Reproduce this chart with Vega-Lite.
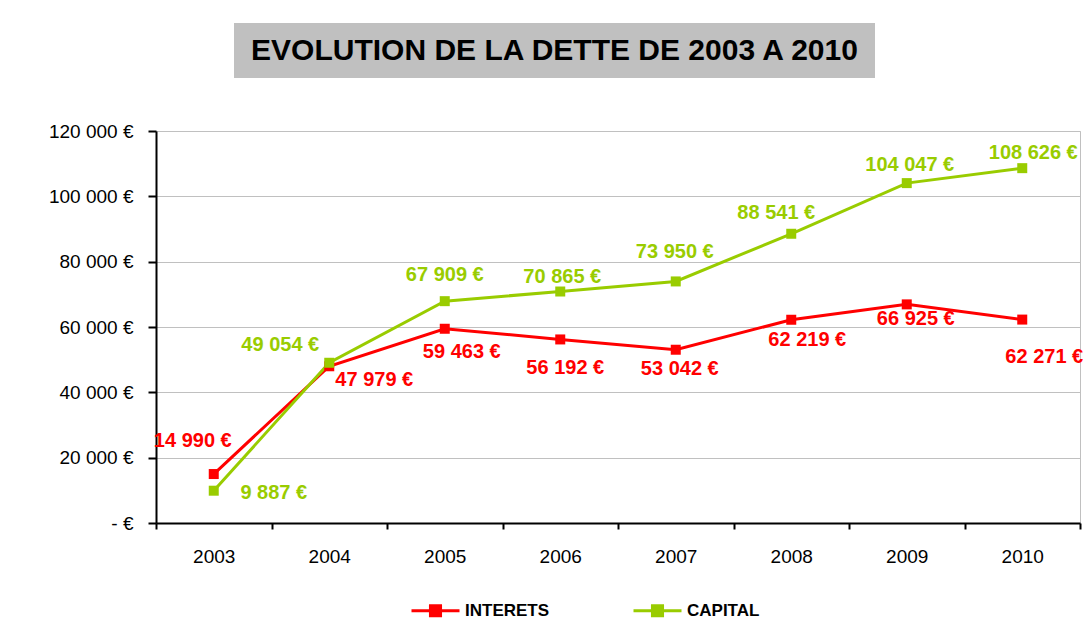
{
  "$schema": "https://vega.github.io/schema/vega-lite/v6.json",
  "background": "white",
  "padding": {"left": 47, "top": 23, "right": 5, "bottom": 5},
  "config": {
    "locale": {"number": {"decimal": ",", "thousands": " ", "grouping": [3], "currency": ["", " €"]}},
    "font": "Liberation Sans",
    "view": {"stroke": "#C0C0C0"}
  },
  "datasets": {
    "dette": [
      {"annee": "2003", "serie": "INTERETS", "montant": 14990},
      {"annee": "2004", "serie": "INTERETS", "montant": 47979},
      {"annee": "2005", "serie": "INTERETS", "montant": 59463},
      {"annee": "2006", "serie": "INTERETS", "montant": 56192},
      {"annee": "2007", "serie": "INTERETS", "montant": 53042},
      {"annee": "2008", "serie": "INTERETS", "montant": 62219},
      {"annee": "2009", "serie": "INTERETS", "montant": 66925},
      {"annee": "2010", "serie": "INTERETS", "montant": 62271},
      {"annee": "2003", "serie": "CAPITAL", "montant": 9887},
      {"annee": "2004", "serie": "CAPITAL", "montant": 49054},
      {"annee": "2005", "serie": "CAPITAL", "montant": 67909},
      {"annee": "2006", "serie": "CAPITAL", "montant": 70865},
      {"annee": "2007", "serie": "CAPITAL", "montant": 73950},
      {"annee": "2008", "serie": "CAPITAL", "montant": 88541},
      {"annee": "2009", "serie": "CAPITAL", "montant": 104047},
      {"annee": "2010", "serie": "CAPITAL", "montant": 108626}
    ]
  },
  "spacing": 43,
  "vconcat": [
    {
      "spacing": 20,
      "hconcat": [
        {
          "width": 58,
          "height": 55,
          "view": {"stroke": null},
          "data": {"values": []},
          "mark": "text"
        },
        {
          "width": 641,
          "height": 55,
          "view": {"fill": "#C0C0C0", "stroke": null},
          "data": {"values": [{"titre": "EVOLUTION DE LA DETTE DE 2003 A 2010"}]},
          "mark": {"type": "text", "fontSize": 30, "fontWeight": "bold", "font": "Liberation Sans", "color": "black", "baseline": "middle", "align": "center"},
          "encoding": {"text": {"field": "titre", "type": "nominal"}}
        }
      ]
    },
    {
      "width": 924,
      "height": 392,
      "data": {"name": "dette"},
      "encoding": {
        "x": {
          "field": "annee", "type": "ordinal",
          "scale": {"type": "band", "paddingInner": 0, "paddingOuter": 0},
          "bandPosition": 0.5,
          "axis": {
            "title": null, "labelAngle": 0, "tickBand": "extent",
            "domainColor": "black", "domainWidth": 2,
            "tickColor": "black", "tickWidth": 2, "tickSize": 6,
            "labelPadding": 18, "labelFontSize": 19, "labelColor": "black", "labelFont": "Liberation Sans",
            "grid": false
          }
        },
        "y": {
          "field": "montant", "type": "quantitative",
          "scale": {"domain": [0, 120000]},
          "axis": {
            "title": null,
            "values": [0, 20000, 40000, 60000, 80000, 100000, 120000],
            "format": "$,.0f",
            "labelExpr": "datum.value == 0 ? '- €' : datum.label",
            "domainColor": "black", "domainWidth": 2,
            "tickColor": "black", "tickWidth": 2, "tickSize": 8,
            "labelPadding": 15, "labelFontSize": 19, "labelColor": "black", "labelFont": "Liberation Sans",
            "gridColor": "#C0C0C0", "gridWidth": 1
          }
        }
      },
      "layer": [
        {
          "mark": {"type": "line", "strokeWidth": 3},
          "encoding": {
            "color": {
              "field": "serie", "type": "nominal",
              "scale": {"domain": ["INTERETS", "CAPITAL"], "range": ["#FF0000", "#99CC00"]},
              "legend": {
                "title": null, "orient": "none", "direction": "horizontal",
                "legendX": 254, "legendY": 562,
                "symbolType": "M-1,0H1M-0.21,-0.21H0.21V0.21H-0.21Z",
                "symbolSize": 2304, "symbolStrokeWidth": 3,
                "labelFontSize": 17, "labelFontWeight": "bold", "labelColor": "black", "labelFont": "Liberation Sans",
                "labelOffset": 4, "columnPadding": 77,
                "encode": {"symbols": {"update": {"fill": {"scale": "color", "field": "value"}}}}
              }
            }
          }
        },
        {
          "mark": {"type": "point", "shape": "square", "filled": true, "size": 100, "opacity": 1},
          "encoding": {
            "color": {
              "field": "serie", "type": "nominal",
              "scale": {"domain": ["INTERETS", "CAPITAL"], "range": ["#FF0000", "#99CC00"]},
              "legend": null
            }
          }
        },
        {
          "encoding": {"text": {"field": "montant", "type": "quantitative", "format": "$,.0f"}},
          "layer": [
            {"transform": [{"filter": "datum.serie == 'INTERETS' && datum.annee == '2003'"}], "mark": {"type": "text", "fontSize": 20, "fontWeight": "bold", "color": "#FF0000", "baseline": "middle", "dx": -21, "dy": -33}},
            {"transform": [{"filter": "datum.serie == 'INTERETS' && datum.annee == '2004'"}], "mark": {"type": "text", "fontSize": 20, "fontWeight": "bold", "color": "#FF0000", "baseline": "middle", "dx": 45, "dy": 14}},
            {"transform": [{"filter": "datum.serie == 'INTERETS' && datum.annee == '2005'"}], "mark": {"type": "text", "fontSize": 20, "fontWeight": "bold", "color": "#FF0000", "baseline": "middle", "dx": 17, "dy": 23}},
            {"transform": [{"filter": "datum.serie == 'INTERETS' && datum.annee == '2006'"}], "mark": {"type": "text", "fontSize": 20, "fontWeight": "bold", "color": "#FF0000", "baseline": "middle", "dx": 5, "dy": 29}},
            {"transform": [{"filter": "datum.serie == 'INTERETS' && datum.annee == '2007'"}], "mark": {"type": "text", "fontSize": 20, "fontWeight": "bold", "color": "#FF0000", "baseline": "middle", "dx": 4, "dy": 19}},
            {"transform": [{"filter": "datum.serie == 'INTERETS' && datum.annee == '2008'"}], "mark": {"type": "text", "fontSize": 20, "fontWeight": "bold", "color": "#FF0000", "baseline": "middle", "dx": 16, "dy": 20}},
            {"transform": [{"filter": "datum.serie == 'INTERETS' && datum.annee == '2009'"}], "mark": {"type": "text", "fontSize": 20, "fontWeight": "bold", "color": "#FF0000", "baseline": "middle", "dx": 9, "dy": 15}},
            {"transform": [{"filter": "datum.serie == 'INTERETS' && datum.annee == '2010'"}], "mark": {"type": "text", "fontSize": 20, "fontWeight": "bold", "color": "#FF0000", "baseline": "middle", "dx": 22, "dy": 37}},
            {"transform": [{"filter": "datum.serie == 'CAPITAL' && datum.annee == '2003'"}], "mark": {"type": "text", "fontSize": 20, "fontWeight": "bold", "color": "#99CC00", "baseline": "middle", "dx": 60, "dy": 2}},
            {"transform": [{"filter": "datum.serie == 'CAPITAL' && datum.annee == '2004'"}], "mark": {"type": "text", "fontSize": 20, "fontWeight": "bold", "color": "#99CC00", "baseline": "middle", "dx": -49, "dy": -18}},
            {"transform": [{"filter": "datum.serie == 'CAPITAL' && datum.annee == '2005'"}], "mark": {"type": "text", "fontSize": 20, "fontWeight": "bold", "color": "#99CC00", "baseline": "middle", "dx": 0, "dy": -26}},
            {"transform": [{"filter": "datum.serie == 'CAPITAL' && datum.annee == '2006'"}], "mark": {"type": "text", "fontSize": 20, "fontWeight": "bold", "color": "#99CC00", "baseline": "middle", "dx": 2, "dy": -15}},
            {"transform": [{"filter": "datum.serie == 'CAPITAL' && datum.annee == '2007'"}], "mark": {"type": "text", "fontSize": 20, "fontWeight": "bold", "color": "#99CC00", "baseline": "middle", "dx": -1, "dy": -29}},
            {"transform": [{"filter": "datum.serie == 'CAPITAL' && datum.annee == '2008'"}], "mark": {"type": "text", "fontSize": 20, "fontWeight": "bold", "color": "#99CC00", "baseline": "middle", "dx": -15, "dy": -21}},
            {"transform": [{"filter": "datum.serie == 'CAPITAL' && datum.annee == '2009'"}], "mark": {"type": "text", "fontSize": 20, "fontWeight": "bold", "color": "#99CC00", "baseline": "middle", "dx": 3, "dy": -18}},
            {"transform": [{"filter": "datum.serie == 'CAPITAL' && datum.annee == '2010'"}], "mark": {"type": "text", "fontSize": 20, "fontWeight": "bold", "color": "#99CC00", "baseline": "middle", "dx": 11, "dy": -15}}
          ]
        }
      ]
    }
  ]
}
